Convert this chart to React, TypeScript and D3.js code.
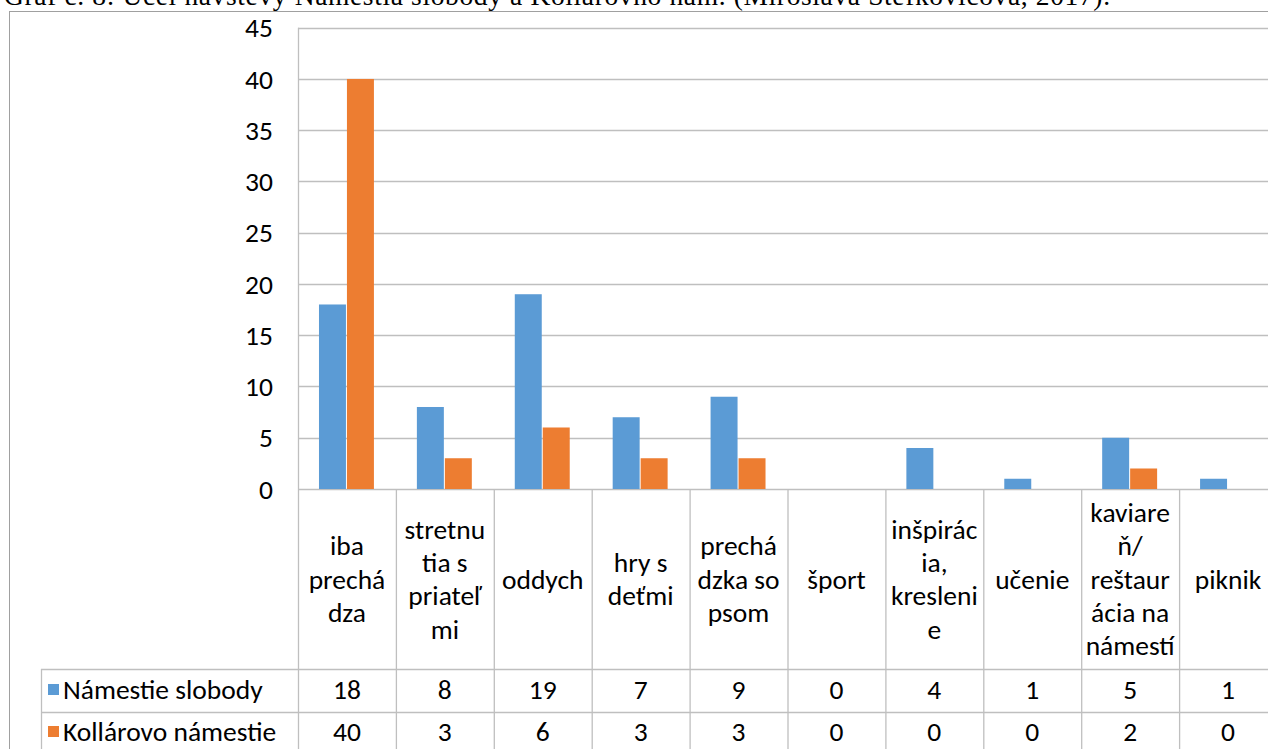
import React from "react";
import * as d3 from "d3";

const title = "Graf č. 8: Účel návštevy Námestia slobody a Kollárovho nám. (Miroslava Štefkovičová, 2017).";
const categoryLines: string[][] = [
  ["iba", "prechá", "dza"],
  ["stretnu", "tia s", "priateľ", "mi"],
  ["oddych"],
  ["hry s", "deťmi"],
  ["prechá", "dzka so", "psom"],
  ["šport"],
  ["inšpirác", "ia,", "kresleni", "e"],
  ["učenie"],
  ["kaviare", "ň/", "reštaur", "ácia na", "námestí"],
  ["piknik"],
];
const seriesNames = ["Námestie slobody", "Kollárovo námestie"];
const seriesColors = ["#5B9BD5", "#ED7D31"];
const namestieSlobody = [18, 8, 19, 7, 9, 0, 4, 1, 5, 1];
const kollarovoNamestie = [40, 3, 6, 3, 3, 0, 0, 0, 2, 0];
const yTicks = [0, 5, 10, 15, 20, 25, 30, 35, 40, 45];

const FONT = "Carlito, Calibri, Lato, sans-serif";

export default function App() {
  const W = 1268, H = 749;
  const plotLeft = 298, plotRight = 1277;
  const plotTop = 27.7, plotBottom = 489;
  const headerBottom = 669, row1Bottom = 712, row2Bottom = 755;
  const legendLeft = 41;
  const series = [namestieSlobody, kollarovoNamestie];

  const idx = categoryLines.map((_, i) => String(i));
  const x = d3.scaleBand<string>().domain(idx).range([plotLeft, plotRight]).paddingInner(0).paddingOuter(0);
  const x1 = d3.scaleBand<string>().domain(["0", "1"]).range([0, x.bandwidth()]).paddingInner(0).paddingOuter(0.75);
  const y = d3.scaleLinear().domain([0, 45]).range([plotBottom, plotTop]);

  const grid = "#BFBFBF";
  const tableLine = "#BFBFBF";
  const fs = 27.5;
  const lineH = 33.3;
  const headerMid = (plotBottom + headerBottom) / 2;
  const rowMids = [(headerBottom + row1Bottom) / 2 - 1, (row1Bottom + row2Bottom) / 2 - 2];

  return (
    <svg width={W} height={H} style={{ position: "absolute", left: 0, top: 0, background: "#fff" }}>
      <rect x={0} y={0} width={W} height={H} fill="#fff" />
      <text x={4} y={5} fontFamily="'Liberation Serif', 'Times New Roman', serif" fontSize={27.5} textLength={1106} lengthAdjust="spacing" fill="#000">{title}</text>
      <rect x={9.5} y={11.5} width={1300} height={800} fill="none" stroke="#A0A0A0" strokeWidth={1} />

      {yTicks.map((t) => (
        <line key={"g" + t} x1={plotLeft} x2={plotRight} y1={Math.round(y(t)) + 0.5} y2={Math.round(y(t)) + 0.5} stroke={grid} strokeWidth={1.3} />
      ))}
      {yTicks.map((t) => (
        <text key={"t" + t} x={273} y={y(t)} dy="0.35em" textAnchor="end" fontFamily={FONT} fontSize={fs} fill="#000">{t}</text>
      ))}
      <line x1={plotLeft + 0.5} x2={plotLeft + 0.5} y1={plotTop} y2={row2Bottom} stroke={tableLine} strokeWidth={1.3} />

      {series.map((vals, s) =>
        vals.map((v, i) => (
          <rect key={`b${s}-${i}`} x={(x(String(i)) as number) + (x1(String(s)) as number)} y={y(v)} width={x1.bandwidth() - 1} height={plotBottom - y(v)} fill={seriesColors[s]} />
        ))
      )}

      {idx.map((k) => (
        <line key={"v" + k} x1={(x(k) as number) + x.bandwidth() + 0.5} x2={(x(k) as number) + x.bandwidth() + 0.5} y1={plotBottom} y2={row2Bottom} stroke={tableLine} strokeWidth={1.3} />
      ))}
      <line x1={legendLeft + 0.5} x2={legendLeft + 0.5} y1={headerBottom} y2={row2Bottom} stroke={tableLine} strokeWidth={1.3} />
      {[headerBottom, row1Bottom, row2Bottom].map((yy) => (
        <line key={"h" + yy} x1={legendLeft} x2={plotRight} y1={yy + 0.5} y2={yy + 0.5} stroke={tableLine} strokeWidth={1.3} />
      ))}

      {categoryLines.map((lines, i) => {
        const cx = (x(String(i)) as number) + x.bandwidth() / 2;
        const start = headerMid - ((lines.length - 1) * lineH) / 2;
        return (
          <text key={"c" + i} textAnchor="middle" fontFamily={FONT} fontSize={fs} fill="#000">
            {lines.map((l, j) => (
              <tspan key={j} x={cx} y={start + j * lineH} dy="0.35em">{l}</tspan>
            ))}
          </text>
        );
      })}

      {seriesNames.map((name, s) => (
        <g key={"l" + s}>
          <rect x={48} y={rowMids[s] - 5.5} width={11} height={11} fill={seriesColors[s]} />
          <text x={63} y={rowMids[s]} dy="0.35em" fontFamily={FONT} fontSize={fs} fill="#000">{name}</text>
          {series[s].map((v, i) => (
            <text key={i} x={(x(String(i)) as number) + x.bandwidth() / 2} y={rowMids[s]} dy="0.35em" textAnchor="middle" fontFamily={FONT} fontSize={fs} fill="#000">{v}</text>
          ))}
        </g>
      ))}
    </svg>
  );
}
